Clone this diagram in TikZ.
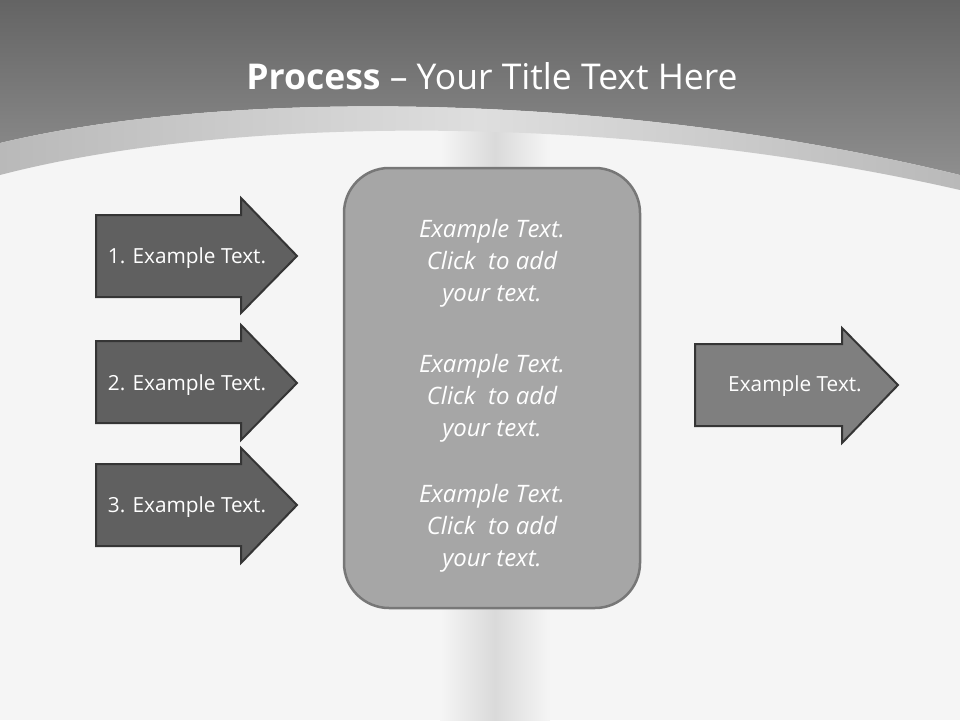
\documentclass[tikz,border=0pt]{standalone}
\usepackage{fontspec}
\setmainfont{Open Sans}
\usepackage{tikz}
\usetikzlibrary{positioning}

\definecolor{hdrtop}{HTML}{646464}
\definecolor{hdrbot}{HTML}{8E8E8E}
\definecolor{bandside}{HTML}{B9B9B9}
\definecolor{bandmid}{HTML}{DEDEDE}
\definecolor{slidebg}{HTML}{F5F5F5}
\definecolor{streak}{HTML}{DADADA}
\definecolor{arrowdark}{HTML}{606060}
\definecolor{arrowlight}{HTML}{7F7F7F}
\definecolor{arrowedge}{HTML}{353535}
\definecolor{boxfill}{HTML}{A6A6A6}
\definecolor{boxedge}{HTML}{777777}

\tikzset{
	arrowtext/.style={text=white, font=\fontsize{20.8}{25}\selectfont},
	boxtext/.style={text=white, align=center, font=\fontsize{24}{32}\selectfont\itshape},
}

\begin{document}
\begin{tikzpicture}[x=1pt, y=-1pt, thick]
		
		\useasboundingbox (0,0) rectangle (960,720);
		
		% --- background ---
		\fill[slidebg] (0,0) rectangle (960,720);
		\shade[left color=slidebg, right color=slidebg, middle color=streak] (440,130) rectangle (550,720);
		
		% --- header ---
		\shade[top color=hdrtop, bottom color=hdrbot] (0,0) -- (960,0) -- (960,175) .. controls (620,92) and (230,88) .. (0,143) -- cycle;
		\shade[left color=bandside, right color=bandside, middle color=bandmid] (0,143) .. controls (230,88) and (620,92) .. (960,175) -- (960,190) .. controls (620,112) and (230,115) .. (0,175) -- cycle;
		\node[text=white, font=\fontsize{35.5}{42}\selectfont] (title) at (492,76) {\textbf{Process} -- Your Title Text Here};
		
		% --- input arrows ---
		\filldraw[fill=arrowdark, draw=arrowedge, line width=2pt] (96,215) -- (241,215) -- (241,198) -- (297,256) -- (241,313) -- (241,297) -- (96,297) -- cycle;
		\node[arrowtext] (in1) at (187,258) {1. Example Text.};
		
		\filldraw[fill=arrowdark, draw=arrowedge, line width=2pt] (96,341) -- (241,341) -- (241,325) -- (297,383) -- (241,440) -- (241,423) -- (96,423) -- cycle;
		\node[arrowtext] (in2) at (187,385) {2. Example Text.};
		
		\filldraw[fill=arrowdark, draw=arrowedge, line width=2pt] (96,464) -- (241,464) -- (241,448) -- (297,505) -- (241,563) -- (241,546) -- (96,546) -- cycle;
		\node[arrowtext] (in3) at (187,507) {3. Example Text.};
		
		% --- process box ---
		\filldraw[fill=boxfill, draw=boxedge, line width=2.5pt, rounded corners=45pt] (344,168) rectangle (640,608);
		\node[boxtext] (step1) at (492,263) {Example Text.\\Click~ to add\\your text.};
		\node[boxtext] (step2) at (492,398) {Example Text.\\Click~ to add\\your text.};
		\node[boxtext] (step3) at (492,528) {Example Text.\\Click~ to add\\your text.};
		
		% --- output arrow ---
		\filldraw[fill=arrowlight, draw=arrowedge, line width=2pt] (695,344) -- (842,344) -- (842,328) -- (898,385) -- (842,443) -- (842,426) -- (695,426) -- cycle;
		\node[arrowtext] (out) at (795,386) {Example Text.};
		
	\end{tikzpicture}
\end{document}
